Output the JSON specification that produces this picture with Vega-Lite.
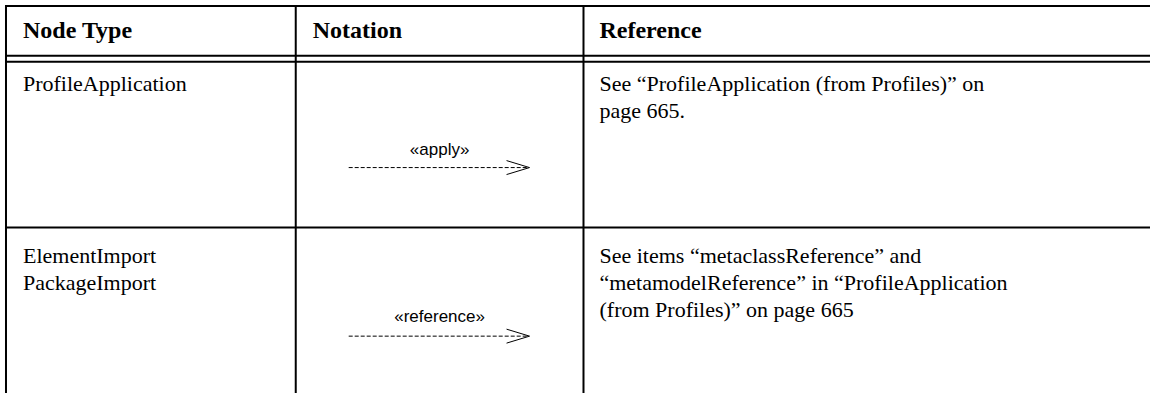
{
  "$schema": "https://vega.github.io/schema/vega-lite/v6.json",
  "width": 1151,
  "height": 394,
  "autosize": {"type": "fit", "contains": "padding"},
  "padding": 0,
  "background": "white",
  "config": {"view": {"stroke": null}},
  "datasets": {
    "lines": [
      {"x": 6, "x2": 1151, "y": 6, "y2": 6},
      {"x": 6, "x2": 1151, "y": 56, "y2": 56},
      {"x": 6, "x2": 1151, "y": 62, "y2": 62},
      {"x": 6, "x2": 1151, "y": 228, "y2": 228},
      {"x": 6, "x2": 6, "y": 5, "y2": 394},
      {"x": 296, "x2": 296, "y": 5, "y2": 394},
      {"x": 584, "x2": 584, "y": 5, "y2": 394}
    ],
    "dashes": [
      {"x": 349, "x2": 528, "y": 168, "y2": 168},
      {"x": 349, "x2": 528, "y": 337, "y2": 337}
    ],
    "heads": [
      {"x": 507, "x2": 530, "y": 161, "y2": 168},
      {"x": 507, "x2": 530, "y": 175, "y2": 168},
      {"x": 507, "x2": 530, "y": 330, "y2": 337},
      {"x": 507, "x2": 530, "y": 344, "y2": 337}
    ],
    "headers": [
      {"x": 23, "y": 31, "t": "Node Type"},
      {"x": 313, "y": 31, "t": "Notation"},
      {"x": 600, "y": 31, "t": "Reference"}
    ],
    "body": [
      {"x": 23, "y": 84, "t": "ProfileApplication"},
      {"x": 600, "y": 84, "t": "See “ProfileApplication (from Profiles)” on"},
      {"x": 600, "y": 111, "t": "page 665."},
      {"x": 23, "y": 257, "t": "ElementImport"},
      {"x": 23, "y": 284, "t": "PackageImport"},
      {"x": 600, "y": 257, "t": "See items “metaclassReference” and"},
      {"x": 600, "y": 284, "t": "“metamodelReference” in “ProfileApplication"},
      {"x": 600, "y": 311, "t": "(from Profiles)” on page 665"}
    ],
    "stereo": [
      {"x": 440, "y": 150, "t": "«apply»"},
      {"x": 440, "y": 318, "t": "«reference»"}
    ]
  },
  "layer": [
    {
      "data": {"name": "lines"},
      "mark": {"type": "rule", "strokeWidth": 2, "color": "black"},
      "encoding": {
        "x": {"field": "x", "type": "quantitative", "scale": {"domain": [0, 1151]}, "axis": null},
        "x2": {"field": "x2"},
        "y": {"field": "y", "type": "quantitative", "scale": {"domain": [0, 394], "reverse": true}, "axis": null},
        "y2": {"field": "y2"}
      }
    },
    {
      "data": {"name": "dashes"},
      "mark": {"type": "rule", "strokeWidth": 1, "color": "black", "strokeDash": [4, 2]},
      "encoding": {
        "x": {"field": "x", "type": "quantitative", "scale": {"domain": [0, 1151]}, "axis": null},
        "x2": {"field": "x2"},
        "y": {"field": "y", "type": "quantitative", "scale": {"domain": [0, 394], "reverse": true}, "axis": null},
        "y2": {"field": "y2"}
      }
    },
    {
      "data": {"name": "heads"},
      "mark": {"type": "rule", "strokeWidth": 1, "color": "black"},
      "encoding": {
        "x": {"field": "x", "type": "quantitative", "scale": {"domain": [0, 1151]}, "axis": null},
        "x2": {"field": "x2"},
        "y": {"field": "y", "type": "quantitative", "scale": {"domain": [0, 394], "reverse": true}, "axis": null},
        "y2": {"field": "y2"}
      }
    },
    {
      "data": {"name": "headers"},
      "mark": {"type": "text", "align": "left", "baseline": "middle", "font": "Liberation Serif", "fontWeight": "bold", "fontSize": 24, "color": "black"},
      "encoding": {
        "x": {"field": "x", "type": "quantitative", "scale": {"domain": [0, 1151]}, "axis": null},
        "y": {"field": "y", "type": "quantitative", "scale": {"domain": [0, 394], "reverse": true}, "axis": null},
        "text": {"field": "t"}
      }
    },
    {
      "data": {"name": "body"},
      "mark": {"type": "text", "align": "left", "baseline": "middle", "font": "Liberation Serif", "fontSize": 22, "color": "black"},
      "encoding": {
        "x": {"field": "x", "type": "quantitative", "scale": {"domain": [0, 1151]}, "axis": null},
        "y": {"field": "y", "type": "quantitative", "scale": {"domain": [0, 394], "reverse": true}, "axis": null},
        "text": {"field": "t"}
      }
    },
    {
      "data": {"name": "stereo"},
      "mark": {"type": "text", "align": "center", "baseline": "middle", "font": "Liberation Sans", "fontSize": 17, "color": "black"},
      "encoding": {
        "x": {"field": "x", "type": "quantitative", "scale": {"domain": [0, 1151]}, "axis": null},
        "y": {"field": "y", "type": "quantitative", "scale": {"domain": [0, 394], "reverse": true}, "axis": null},
        "text": {"field": "t"}
      }
    }
  ]
}
